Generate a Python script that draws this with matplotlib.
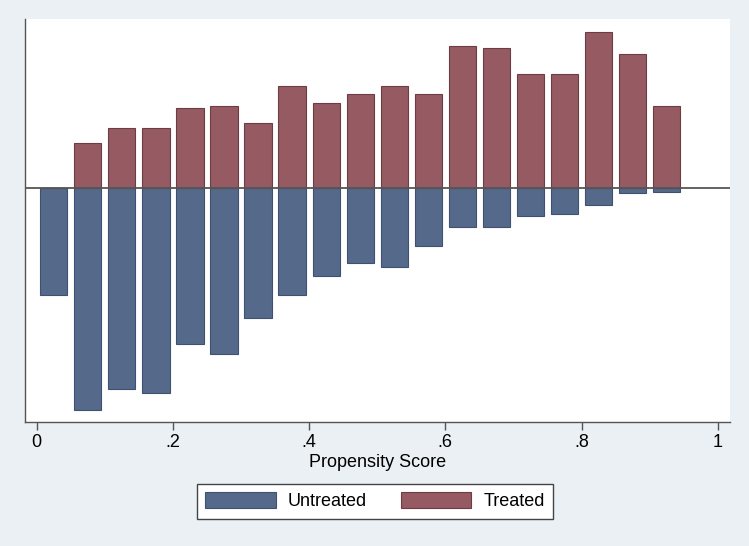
import matplotlib
matplotlib.use("Agg")
import matplotlib.pyplot as plt
from matplotlib.patches import Patch

# Propensity score bins (bin centres) and frequencies (arbitrary units)
bin_centers = [0.025, 0.075, 0.125, 0.175, 0.225, 0.275, 0.325, 0.375, 0.425, 0.475,
               0.525, 0.575, 0.625, 0.675, 0.725, 0.775, 0.825, 0.875, 0.925]
treated = [0, 45.0, 59.7, 59.7, 79.4, 82.0, 65.0, 102.0, 85.0, 93.7,
           102.0, 93.7, 142.0, 139.4, 113.7, 113.7, 156.0, 134.0, 82.0]
untreated = [107.3, 222.3, 201.3, 205.3, 156.3, 166.0, 130.0, 107.3, 88.3, 75.3,
             79.0, 58.3, 39.6, 39.6, 28.3, 26.3, 17.0, 5.6, 4.0]
xtick_vals = [0, 0.2, 0.4, 0.6, 0.8, 1.0]
xtick_labels = ["0", ".2", ".4", ".6", ".8", "1"]

plt.rcParams['font.family'] = ['Liberation Sans', 'DejaVu Sans']

bg = '#eaf0f4'
c_untr = '#55698a'
c_tr = '#955a62'

fig = plt.figure(figsize=(7.49, 5.46), dpi=100, facecolor=bg)
ax = fig.add_axes([0.0334, 0.2277, 0.9412, 0.7375])
ax.set_facecolor('white')

bw = 0.04
ax.bar(bin_centers, [-u for u in untreated], width=bw, color=c_untr,
       edgecolor='#3f5070', linewidth=0.8, zorder=2)
ax.bar(bin_centers, treated, width=bw, color=c_tr,
       edgecolor='#6e3c44', linewidth=0.8, zorder=2)
ax.axhline(0, color='#555555', linewidth=1.3, zorder=3)

ax.set_xlim(-0.0172, 1.018)
ax.set_ylim(-234, 168.7)

ax.set_xticks(xtick_vals)
ax.set_xticklabels(xtick_labels, fontsize=13)
ax.tick_params(axis='x', length=6, width=1, color='#555555', pad=3)
ax.set_yticks([])
for s in ['top', 'right']:
    ax.spines[s].set_visible(False)
for s in ['left', 'bottom']:
    ax.spines[s].set_color('#555555')
    ax.spines[s].set_linewidth(1.0)
ax.set_xlabel('Propensity Score', fontsize=13, labelpad=2)

handles = [Patch(facecolor=c_untr, edgecolor='#3f5070', linewidth=0.8, label='Untreated'),
           Patch(facecolor=c_tr, edgecolor='#6e3c44', linewidth=0.8, label='Treated')]
leg = fig.legend(handles=handles, loc='center', bbox_to_anchor=(0.5007, 0.0819),
                 ncol=2, fontsize=13, frameon=True, fancybox=False,
                 edgecolor='#444444', facecolor='white', framealpha=1,
                 handlelength=3.9, handleheight=1.0, handletextpad=0.65,
                 columnspacing=1.9, borderpad=0.45)
leg.get_frame().set_linewidth(1.0)

fig.savefig('out.png', dpi=100, facecolor=bg)
